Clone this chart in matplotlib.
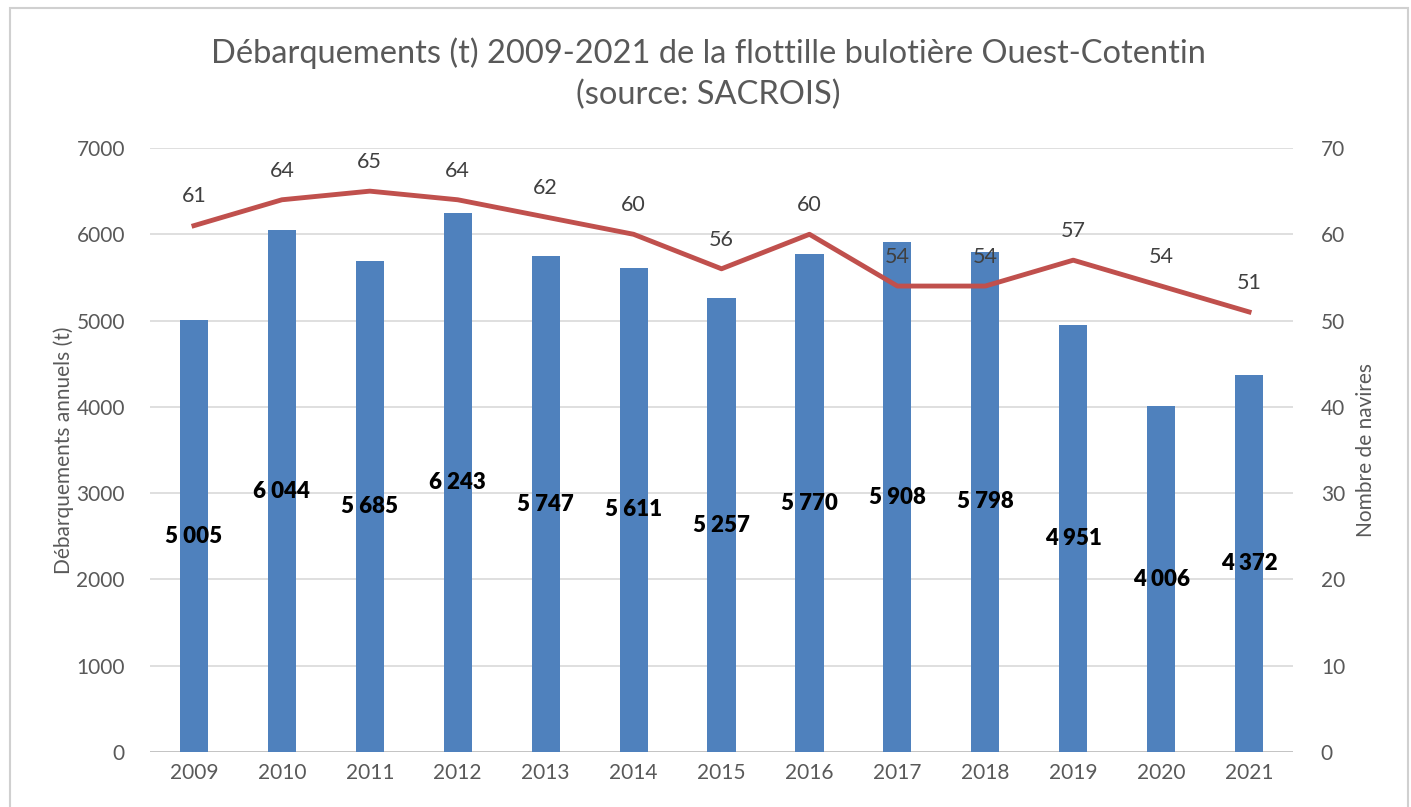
import matplotlib.pyplot as plt
from matplotlib.patches import Rectangle
import numpy as np

plt.rcParams['font.family'] = ['Lato', 'DejaVu Sans']

years = ["2009", "2010", "2011", "2012", "2013", "2014", "2015",
         "2016", "2017", "2018", "2019", "2020", "2021"]
landings = [5005, 6044, 5685, 6243, 5747, 5611, 5257,
            5770, 5908, 5798, 4951, 4006, 4372]
vessels = [61, 64, 65, 64, 62, 60, 56, 60, 54, 54, 57, 54, 51]

bar_color = "#4F81BD"
line_color = "#C0504D"
text_grey = "#595959"

fig = plt.figure(figsize=(14.11, 8.07), dpi=100)
ax = fig.add_axes([0.1063, 0.0682, 0.8101, 0.7484])
ax2 = ax.twinx()

# frame around the chart area
fig.patches.append(Rectangle((0.007, -0.01), 0.991, 1.0, transform=fig.transFigure,
                             fill=False, edgecolor="#D0D0D0", linewidth=1.5))

x = np.arange(len(years))
ax.bar(x, landings, width=0.32, color=bar_color, zorder=3)

def fmt(v):
    return f"{v:,}".replace(",", " ")

for xi, v in zip(x, landings):
    ax.text(xi, v / 2, fmt(v), ha="center", va="center", fontsize=16,
            fontweight="heavy", color="black", zorder=5)

ax.set_ylim(0, 7000)
ax.set_yticks(range(0, 7001, 1000))
ax.set_xlim(-0.5, len(years) - 0.5)
ax.set_xticks(x)
ax.set_xticklabels(years)
ax.grid(axis="y", color="#D9D9D9", linewidth=1.2, zorder=0)
ax.set_axisbelow(True)

ax2.plot(x, vessels, color=line_color, linewidth=3.5, zorder=4)
for xi, v in zip(x, vessels):
    ax2.annotate(str(v), (xi, v), xytext=(0, 21), textcoords="offset points",
                 ha="center", va="center", fontsize=15.5, color="#404040")
ax2.set_ylim(0, 70)
ax2.set_yticks(range(0, 71, 10))

for a in (ax, ax2):
    for s in ("top", "left", "right", "bottom"):
        a.spines[s].set_visible(False)
    a.tick_params(axis="both", length=0, labelsize=15, colors=text_grey, pad=8)
ax.axhline(0, color="#BFBFBF", linewidth=1.2, zorder=2)
ax2.tick_params(axis="y", pad=20)
ax.tick_params(axis="y", pad=18)

ax.set_ylabel("Débarquements annuels (t)", fontsize=15, color=text_grey, labelpad=2)
ax2.set_ylabel("Nombre de navires", fontsize=15, color=text_grey, labelpad=8)

fig.text(0.502, 0.909, "Débarquements (t) 2009-2021 de la flottille bulotière Ouest-Cotentin\n(source: SACROIS)",
         ha="center", va="center", fontsize=23.5, color=text_grey, linespacing=1.45)

fig.savefig("out.png", dpi=100, facecolor="white")
